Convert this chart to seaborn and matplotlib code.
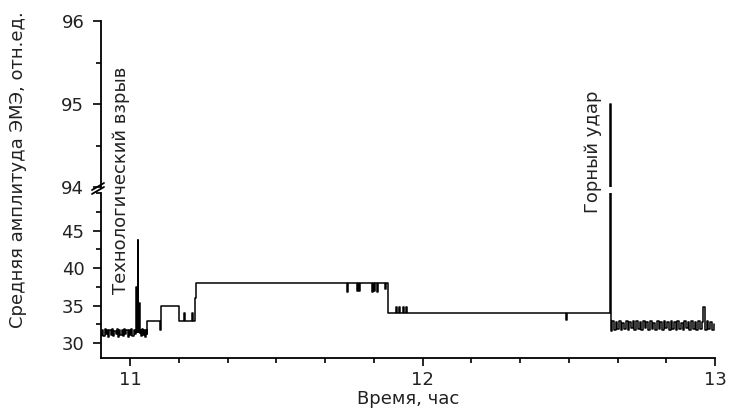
import numpy as np
import pandas as pd
import matplotlib
matplotlib.use("Agg")
import matplotlib.pyplot as plt
import seaborn as sns
from matplotlib.lines import Line2D
from matplotlib.ticker import MultipleLocator

# ---data---
# dense fluctuations before the blast
noise_a_span = (10.900, 11.020)
noise_a = [31.1, 31.8, 31.0, 31.9, 31.2, 31.7, 30.9, 31.8, 31.1, 31.9,
           31.0, 31.6, 31.2, 31.9, 30.9, 31.8, 31.1, 31.7, 31.0, 31.9,
           31.2, 31.8, 30.9, 31.7, 31.1, 31.9, 31.0, 31.8, 31.2, 31.6]

# technological blast spike
blast_t = [11.020, 11.024, 11.026, 11.028, 11.031, 11.033]
blast_v = [37.5, 31.5, 43.8, 31.5, 35.3, 31.4]

noise_b_span = (11.035, 11.056)
noise_b = [31.8, 31.0, 31.9, 31.1, 31.8, 30.9, 31.7, 31.2]

# stepwise part up to the rock burst
steps_t = [11.058, 11.103, 11.106, 11.167, 11.183, 11.186, 11.212, 11.215,
           11.221, 11.225, 11.742, 11.745, 11.776, 11.779, 11.783, 11.786,
           11.826, 11.830, 11.834, 11.838, 11.843, 11.847, 11.872, 11.876,
           11.882, 11.910, 11.912, 11.920, 11.922, 11.934, 11.936, 11.944,
           11.946, 12.490, 12.494, 12.641, 12.646]
steps_v = [33.0, 31.8, 35.0, 33.0, 34.0, 33.0, 34.0, 33.0,
           36.0, 38.0, 36.8, 38.0, 37.0, 38.0, 36.9, 38.0,
           36.8, 38.0, 36.9, 38.0, 36.8, 38.0, 37.2, 38.0,
           34.0, 34.8, 34.0, 34.8, 34.0, 34.8, 34.0, 34.8,
           34.0, 33.1, 34.0, 95.0, 31.6]

# fluctuations after the rock burst
noise_c_span = (12.648, 12.995)
noise_c = [32.9, 31.8, 32.8, 31.9, 33.0, 31.8, 32.7, 31.9, 32.9, 31.8,
           32.8, 32.0, 33.0, 31.8, 32.9, 31.9, 32.8, 31.8, 32.9, 32.0,
           32.8, 31.8, 33.0, 31.9, 32.7, 31.8, 32.9, 31.9, 32.8, 31.8,
           33.0, 32.0, 32.8, 31.8, 32.9, 31.9, 32.8, 31.8, 33.0, 31.9,
           32.7, 31.8, 32.9, 32.0, 32.8, 31.8, 32.9, 31.9, 32.8, 31.8,
           33.0, 31.9, 32.8, 34.8, 31.8, 32.9, 31.9, 32.8, 31.8, 32.6]

x_ticks = [11, 12, 13]
y_low_ticks = [30, 35, 40, 45]
y_high_ticks = [94, 95, 96]

# ---assemble series---
t = np.concatenate([np.linspace(*noise_a_span, len(noise_a)), blast_t,
                    np.linspace(*noise_b_span, len(noise_b)), steps_t,
                    np.linspace(*noise_c_span, len(noise_c))])
v = np.concatenate([noise_a, blast_v, noise_b, steps_v, noise_c])
df = pd.DataFrame({"time": t, "amp": v})

sns.set_style("ticks")
plt.rcParams["font.family"] = ["DejaVu Sans"]
plt.rcParams["text.color"] = "#222222"
plt.rcParams["xtick.color"] = "#222222"
plt.rcParams["ytick.color"] = "#222222"
plt.rcParams["axes.edgecolor"] = "black"

W, H = 729, 409
fig = plt.figure(figsize=(W / 100, H / 100), dpi=100)
left, width = 101 / W, 614 / W
ax_lo = fig.add_axes([left, (H - 358.3) / H, width, (358.3 - 193) / H])
ax_hi = fig.add_axes([left, (H - 187) / H, width, (187 - 21) / H])

for ax in (ax_lo, ax_hi):
    sns.lineplot(data=df, x="time", y="amp", estimator=None, sort=False,
                 drawstyle="steps-post", color="black", lw=1.1, ax=ax)
    ax.set_xlim(10.9, 13.0)
    ax.set_xlabel("")
    ax.set_ylabel("")
    sns.despine(ax=ax)
    for s in ax.spines.values():
        s.set_linewidth(1.3)
    ax.tick_params(which="major", length=6, width=1.2, labelsize=13, pad=3,
                   color="black")
    ax.tick_params(which="minor", length=3.5, width=1.2, color="black")

ax_lo.set_ylim(28, 50)
ax_lo.set_yticks(y_low_ticks)
ax_lo.yaxis.set_minor_locator(MultipleLocator(2.5))
ax_lo.set_xticks(x_ticks)
ax_lo.xaxis.set_minor_locator(MultipleLocator(1 / 6))
ax_lo.tick_params(axis="y", pad=6)

ax_hi.set_ylim(94, 96)
ax_hi.set_yticks(y_high_ticks)
ax_hi.yaxis.set_minor_locator(MultipleLocator(0.5))
ax_hi.spines["bottom"].set_visible(False)
ax_hi.tick_params(axis="x", which="both", bottom=False, labelbottom=False)
ax_hi.tick_params(axis="y", pad=6)

# axis break marks
for y0 in (190, 194):
    fig.add_artist(Line2D([92 / W, 104 / W], [1 - y0 / H, 1 - (y0 - 7) / H],
                          color="black", lw=1.3))

fig.text(18 / W, 1 - 170 / H, "Средняя амплитуда ЭМЭ, отн.ед.", rotation=90,
         ha="center", va="center", fontsize=13)
fig.text(408 / W, 1 - 399 / H, "Время, час", ha="center", va="center", fontsize=13)
fig.text(121 / W, 1 - 180 / H, "Технологический взрыв", rotation=90,
         ha="center", va="center", fontsize=13)
fig.text(593 / W, 1 - 152 / H, "Горный удар", rotation=90,
         ha="center", va="center", fontsize=13)

fig.savefig("out.png", dpi=100)
